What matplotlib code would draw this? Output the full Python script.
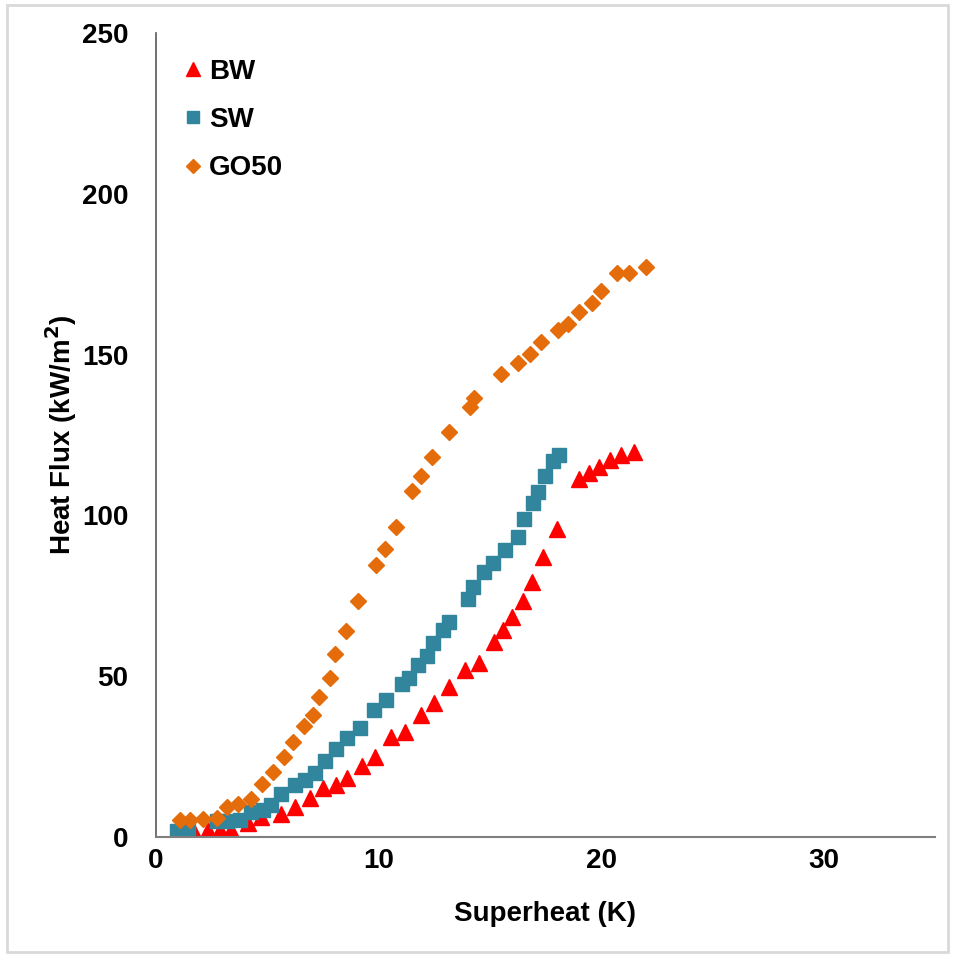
import matplotlib.pyplot as plt
from matplotlib.patches import Rectangle

plt.rcParams['font.family'] = ['Liberation Sans', 'DejaVu Sans']
plt.rcParams['font.weight'] = 'bold'

# BW - red triangles
bw_x = [1.75, 2.35, 2.87, 3.39, 4.13, 4.74, 5.63, 6.23, 6.9, 7.5, 8.1, 8.6, 9.25, 9.82,
        10.57, 11.17, 11.9, 12.5, 13.15, 13.9, 14.5, 15.17, 15.6, 16.0, 16.47, 16.9,
        17.37, 18.04, 19.0, 19.46, 19.9, 20.4, 20.9, 21.5]
bw_y = [1.0, 2.2, 2.2, 2.2, 4.3, 6.3, 7.3, 9.4, 12.0, 15.1, 16.2, 18.2, 22.2, 25.0,
        31.2, 32.7, 37.9, 41.8, 46.7, 51.9, 54.0, 60.7, 64.4, 68.5, 73.5, 79.4,
        87.1, 95.8, 111.2, 113.2, 115.1, 117.2, 118.8, 119.8]

# SW - teal squares
sw_x = [0.93, 1.45, 2.72, 3.17, 3.77, 4.29, 4.81, 5.19, 5.63, 6.23, 6.71, 7.16, 7.61,
        8.10, 8.6, 9.18, 9.78, 10.35, 11.06, 11.36, 11.76, 12.18, 12.45, 12.88, 13.15,
        14.0, 14.26, 14.75, 15.16, 15.7, 16.25, 16.55, 16.95, 17.16, 17.46, 17.85, 18.1]
sw_y = [2.0, 2.0, 5.1, 5.1, 5.4, 7.7, 8.4, 10.0, 13.4, 16.2, 17.7, 19.8, 23.7,
        27.3, 30.7, 34.0, 39.5, 42.6, 47.6, 49.4, 53.5, 56.4, 60.2, 64.4, 67.0,
        73.9, 77.8, 82.5, 85.3, 89.2, 93.2, 98.8, 103.9, 107.4, 112.3, 116.9, 118.8]

# GO50 - orange diamonds
go_x = [1.08, 1.52, 2.12, 2.72, 3.17, 3.69, 4.25, 4.78, 5.26, 5.75, 6.16, 6.65, 7.06,
        7.32, 7.80, 8.06, 8.52, 9.07, 9.87, 10.3, 10.8, 11.5, 11.9, 12.4, 13.15, 14.1,
        14.3, 15.5, 16.25, 16.8, 17.3, 18.05, 18.5, 19.0, 19.6, 20.0, 20.7, 21.25, 22.0]
go_y = [5.3, 5.3, 5.6, 6.0, 9.2, 10.3, 11.7, 16.6, 20.3, 25.0, 29.6, 34.5, 37.9,
        43.4, 49.3, 56.8, 64.0, 73.5, 84.6, 89.5, 96.4, 107.6, 112.3, 118.0, 126.0, 133.6,
        136.6, 143.9, 147.5, 150.2, 153.8, 157.6, 159.4, 163.3, 166.1, 169.8, 175.3, 175.3, 177.3]

fig = plt.figure(figsize=(9.54, 9.58), dpi=100)
ax = fig.add_axes([0.1635, 0.1263, 0.8165, 0.8393])

ax.plot(bw_x, bw_y, linestyle='none', marker='^', ms=12, color='#FF0000', label='BW')
ax.plot(sw_x, sw_y, linestyle='none', marker='s', ms=9.5, color='#31859C', label='SW')
ax.plot(go_x, go_y, linestyle='none', marker='D', ms=8.3, color='#E46C0A', label='GO50')

ax.set_xlim(0, 35)
ax.set_ylim(0, 250)
ax.set_xticks([0, 10, 20, 30])
ax.set_yticks([0, 50, 100, 150, 200, 250])
ax.tick_params(axis='both', length=0, labelsize=20)
ax.tick_params(axis='x', pad=8)
ax.tick_params(axis='y', pad=20)

for s in ['top', 'right']:
    ax.spines[s].set_visible(False)
ax.spines['left'].set_color('#595959')
ax.spines['bottom'].set_color('#7f7f7f')
ax.spines['left'].set_linewidth(1.2)
ax.spines['bottom'].set_linewidth(1.5)

ax.set_xlabel('Superheat (K)', fontsize=20, fontweight='bold', labelpad=19)
ax.set_ylabel('Heat Flux (kW/m$^\\mathbf{2}$)', fontsize=20, fontweight='bold', labelpad=2)

ax.legend(loc='upper left', bbox_to_anchor=(0.016, 0.985), frameon=False, fontsize=20,
          handlelength=0.8, handletextpad=0.15, labelspacing=0.8, borderpad=0,
          markerscale=0.85)

fig.patches.append(Rectangle((0.007, 0.006), 0.987, 0.989, transform=fig.transFigure,
                             fill=False, edgecolor='#d9d9d9', lw=2))

fig.savefig('out.png', dpi=100)
